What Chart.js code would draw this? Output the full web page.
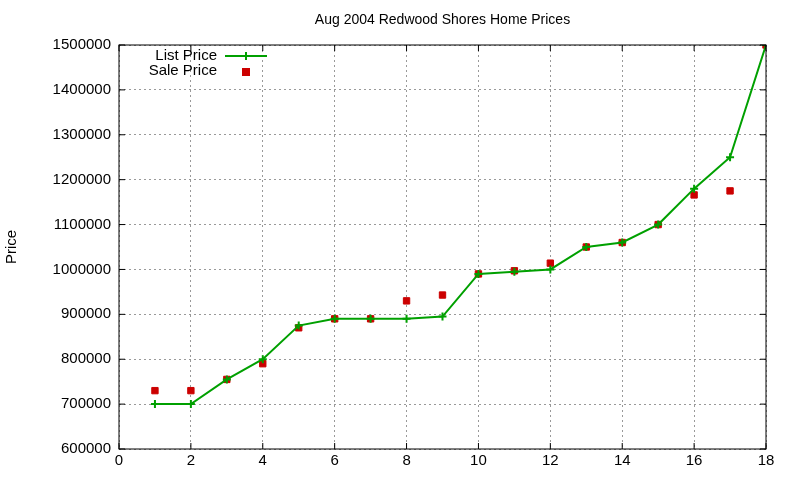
<!DOCTYPE html>
<html><head><meta charset="utf-8">
<script src="https://cdn.jsdelivr.net/npm/chart.js@4/dist/chart.umd.min.js"></script>
<style>body{margin:0;background:#fff}</style></head>
<body><canvas id="c" width="800" height="480"></canvas>
<script>
const xs=[1,2,3,4,5,6,7,8,9,10,11,12,13,14,15,16,17,18];
const listPrice=[700000,700000,755000,800000,875000,890000,890000,890000,895000,990000,995000,1000000,1050000,1060000,1100000,1180000,1250000,1500000];
const salePrice=[730000,730000,755000,790000,870000,890000,890000,930000,943000,990000,997000,1014000,1050000,1060000,1100000,1166000,1175000,1500000];
const F='"Liberation Sans", Arial, sans-serif';
const deco={id:'deco',afterDraw(ch){const c=ch.ctx,a=ch.chartArea;c.save();
c.fillStyle='#000';c.font='14px '+F;c.textAlign='center';c.textBaseline='middle';
c.fillText('Aug 2004 Redwood Shores Home Prices',(a.left+a.right)/2,20);
c.font='15px '+F;
c.save();c.translate(12,(a.top+a.bottom)/2);c.rotate(-Math.PI/2);c.fillText('Price',0,0);c.restore();
c.textAlign='right';c.fillText('List Price',217,56);c.fillText('Sale Price',217,71);
c.strokeStyle='#00a000';c.lineWidth=2;c.beginPath();c.moveTo(225,56);c.lineTo(267,56);c.moveTo(246,52);c.lineTo(246,60);c.stroke();
c.fillStyle='#cc0000';c.fillRect(242,68,8,8);
c.strokeStyle='#000';c.lineWidth=1;c.strokeRect(a.left,a.top,a.right-a.left,a.bottom-a.top);
c.beginPath();
ch.scales.x.ticks.forEach(t=>{const p=ch.scales.x.getPixelForValue(t.value);c.moveTo(p,a.bottom);c.lineTo(p,a.bottom-6);c.moveTo(p,a.top);c.lineTo(p,a.top+6);});
ch.scales.y.ticks.forEach(t=>{const p=ch.scales.y.getPixelForValue(t.value);c.moveTo(a.left,p);c.lineTo(a.left+6,p);c.moveTo(a.right,p);c.lineTo(a.right-6,p);});
c.stroke();
c.restore();}};
new Chart(document.getElementById('c'),{type:'scatter',
data:{datasets:[
{label:'List Price',data:xs.map((x,i)=>({x,y:listPrice[i]})),showLine:true,borderColor:'#00a000',borderWidth:2,pointStyle:'cross',pointRadius:4,pointBorderWidth:2,pointBorderColor:'#00a000',tension:0},
{label:'Sale Price',data:xs.map((x,i)=>({x,y:salePrice[i]})),pointStyle:'rect',pointRadius:4.5,backgroundColor:'#cc0000',borderColor:'#cc0000'}]},
options:{responsive:false,animation:false,layout:{padding:{top:45,right:34,left:0,bottom:0}},
plugins:{legend:{display:false},tooltip:{enabled:false}},
scales:{
x:{type:'linear',min:0,max:18,ticks:{stepSize:2,color:'#000',font:{size:15,family:F}},grid:{color:'#999',drawTicks:false},border:{display:false,dash:[2,3]},afterFit(s){s.height=31;}},
y:{min:600000,max:1500000,ticks:{stepSize:100000,color:'#000',padding:8,font:{size:15,family:F},callback:v=>String(v)},grid:{color:'#999',drawTicks:false},border:{display:false,dash:[2,3]},afterFit(s){s.width=119;}}}},
plugins:[deco]});
</script></body></html>
